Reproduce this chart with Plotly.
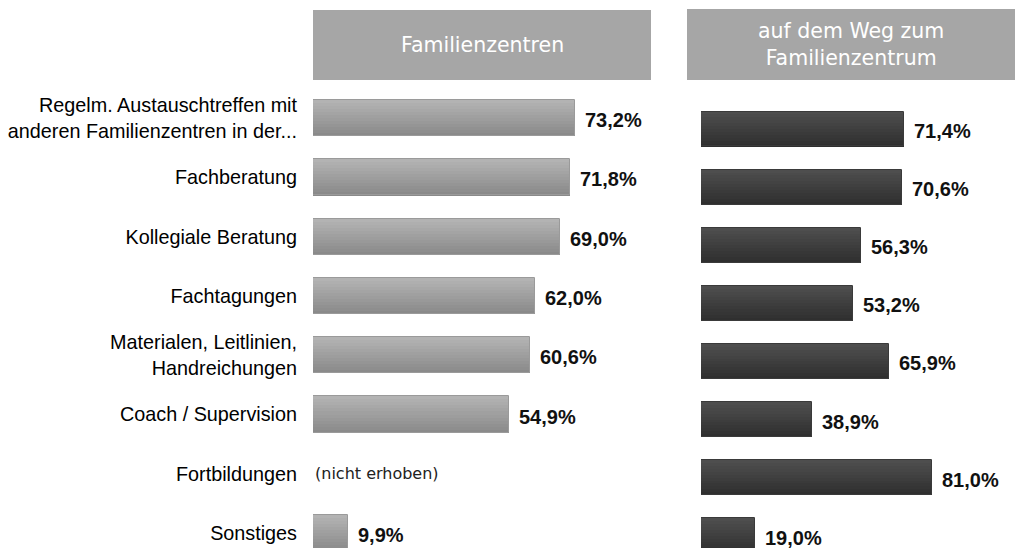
import plotly.graph_objects as go

W, H = 1015, 548

categories = [
    "Regelm. Austauschtreffen mit<br>anderen Familienzentren in der...",
    "Fachberatung",
    "Kollegiale Beratung",
    "Fachtagungen",
    "Materialen, Leitlinien,<br>Handreichungen",
    "Coach / Supervision",
    "Fortbildungen",
    "Sonstiges",
]
familienzentren = [73.2, 71.8, 69.0, 62.0, 60.6, 54.9, None, 9.9]
auf_dem_weg = [71.4, 70.6, 56.3, 53.2, 65.9, 38.9, 81.0, 19.0]
header_left = "Familienzentren"
header_right = "auf dem Weg zum<br>Familienzentrum"
not_collected = "(nicht erhoben)"


def px_x(p):
    return p / W


def px_y(p):
    return 1 - p / H


def fmt(v):
    return f"{v:.1f}".replace(".", ",") + "%"


def lerp_color(c0, c1, t):
    a = [int(c0[i:i + 2], 16) for i in (1, 3, 5)]
    b = [int(c1[i:i + 2], 16) for i in (1, 3, 5)]
    return "#" + "".join(f"{round(a[k] + (b[k] - a[k]) * t):02x}" for k in range(3))


idx = list(range(len(categories)))

fig = go.Figure()


def add_gradient_bars(values, xa, ya, total_w, top, bottom, edge, n=12):
    sw = total_w / n
    for k in range(n):
        t = k / (n - 1)
        fig.add_trace(go.Bar(
            y=idx, x=values, orientation="h",
            width=sw * 1.05, offset=-total_w / 2 + k * sw,
            marker=dict(color=lerp_color(top, bottom, t), line=dict(width=0)),
            xaxis=xa, yaxis=ya, showlegend=False, hoverinfo="skip",
        ))
    fig.add_trace(go.Bar(
        y=idx, x=values, orientation="h", width=total_w,
        marker=dict(color="rgba(0,0,0,0)", line=dict(color=edge, width=1)),
        xaxis=xa, yaxis=ya, showlegend=False, hoverinfo="skip",
    ))


add_gradient_bars(familienzentren, "x", "y", 0.61, "#b3b3b3", "#8a8a8a", "#9a9a9a")
add_gradient_bars(auf_dem_weg, "x2", "y2", 0.6, "#4e4e4e", "#2f2f2f", "#3a3a3a")

annotations = []
for i, v in enumerate(familienzentren):
    if v is None:
        annotations.append(dict(x=0, y=i, xref="x", yref="y", text=not_collected,
                                showarrow=False, xanchor="left", yanchor="middle", xshift=0,
                                font=dict(family="DejaVu Sans", size=16, color="#222222")))
    else:
        annotations.append(dict(x=v, y=i, xref="x", yref="y", text="<b>" + fmt(v) + "</b>",
                                showarrow=False, xanchor="left", yanchor="middle",
                                xshift=8, yshift=-2,
                                font=dict(family="Liberation Sans", size=20, color="#111111")))
for i, v in enumerate(auf_dem_weg):
    annotations.append(dict(x=v, y=i, xref="x2", yref="y2", text="<b>" + fmt(v) + "</b>",
                            showarrow=False, xanchor="left", yanchor="middle",
                            xshift=8, yshift=-2,
                            font=dict(family="Liberation Sans", size=20, color="#111111")))

annotations.append(dict(x=(px_x(313) + px_x(651)) / 2, y=px_y(45), xref="paper", yref="paper",
                        xanchor="center", yanchor="middle",
                        text=header_left, showarrow=False,
                        font=dict(family="DejaVu Sans", size=20.5, color="#ffffff")))
annotations.append(dict(x=(px_x(687) + px_x(1015)) / 2, y=px_y(45), xref="paper", yref="paper",
                        xanchor="center", yanchor="middle",
                        text=header_right, showarrow=False,
                        font=dict(family="DejaVu Sans", size=20.5, color="#ffffff")))

shapes = [
    dict(type="rect", xref="paper", yref="paper", x0=px_x(313), x1=px_x(651),
         y0=px_y(80), y1=px_y(10), fillcolor="#a6a6a6", line=dict(width=0), layer="below"),
    dict(type="rect", xref="paper", yref="paper", x0=px_x(687), x1=px_x(1015),
         y0=px_y(80), y1=px_y(9), fillcolor="#a6a6a6", line=dict(width=0), layer="below"),
]

left_px_per = 3.579
right_px_per = 2.85
l0, l1 = 313, 666
r0, r1 = 701, 1015
ls, lstep = 118, 59.3
rs, rstep = 129, 58.1

fig.update_layout(
    width=W, height=H,
    margin=dict(l=0, r=0, t=0, b=0),
    paper_bgcolor="#ffffff", plot_bgcolor="rgba(0,0,0,0)",
    bargap=0, barmode="overlay",
    xaxis=dict(domain=[px_x(l0), px_x(l1)], range=[0, (l1 - l0) / left_px_per],
               visible=False, fixedrange=True),
    xaxis2=dict(domain=[px_x(r0), px_x(r1)], range=[0, (r1 - r0) / right_px_per],
                visible=False, fixedrange=True),
    yaxis=dict(domain=[0, 1], anchor="x",
               range=[(H - ls) / lstep, -ls / lstep],
               tickmode="array", tickvals=idx, ticktext=categories,
               showgrid=False, zeroline=False, showline=False, ticks="",
               ticklabelstandoff=15,
               tickfont=dict(family="Liberation Sans", size=19.8, color="#000000")),
    yaxis2=dict(domain=[0, 1], anchor="x2",
                range=[(H - rs) / rstep, -rs / rstep],
                showticklabels=False, showgrid=False, zeroline=False, showline=False),
    annotations=annotations,
    shapes=shapes,
)

fig.write_html("out.html", config={"displayModeBar": False},
               post_script="document.body.style.margin='0';document.body.style.overflow='hidden';")
